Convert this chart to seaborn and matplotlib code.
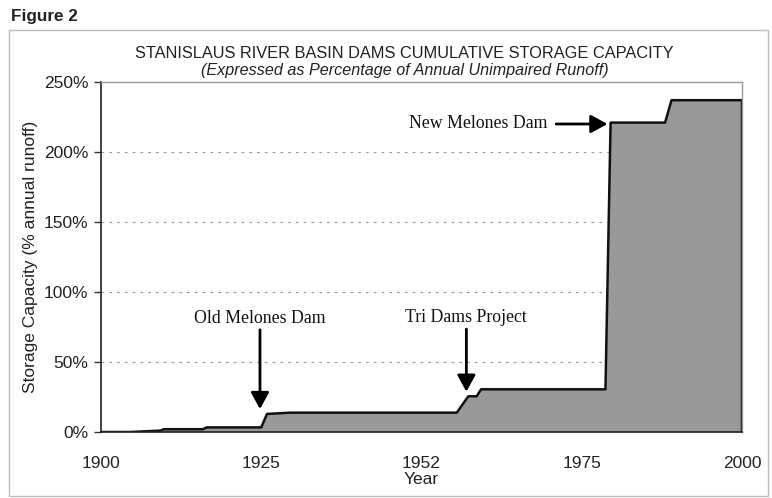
import matplotlib
matplotlib.use("Agg")
import matplotlib.pyplot as plt
from matplotlib.patches import Rectangle
import numpy as np
import seaborn as sns

# ---- data ----
years = [1900, 1904.5, 1909.3, 1909.8, 1915.9, 1916.5, 1925.0, 1925.9, 1929.5,
         1955.5, 1957.3, 1958.6, 1959.3, 1978.7, 1979.5, 1988.0, 1989.0, 2000, 2000]
capacity = [0, 0, 1.0, 2.0, 2.0, 3.3, 3.3, 12.9, 13.8,
            13.8, 25.5, 25.5, 30.5, 30.5, 221, 221, 237, 237, 0]
xtick_values = [1900, 1925, 1950, 1975, 2000]
xtick_labels = ["1900", "1925", "1952", "1975", "2000"]
ytick_values = [0, 50, 100, 150, 200, 250]
ytick_labels = ["0%", "50%", "100%", "150%", "200%", "250%"]

sns.set_style("white")
plt.rcParams['font.family'] = ['Liberation Sans', 'DejaVu Sans']

W, H = 772, 498
fig = plt.figure(figsize=(W / 100, H / 100), dpi=100)
ax = fig.add_axes([101 / W, 1 - 432 / H, (742 - 101) / W, (432 - 82) / H])

# grid
for yv in ytick_values[1:-1]:
    ax.axhline(yv, color='#9a9a9a', lw=0.8, ls=(0, (2.5, 4.5)), zorder=0)

ax.fill_between(years, capacity, 0, color='#999999', lw=0, zorder=1)
sns.lineplot(x=years, y=capacity, estimator=None, sort=False, color='#111111',
             lw=1.8, ax=ax, zorder=2)

ax.set_xlim(1900, 2000)
ax.set_ylim(0, 250)

ax.set_xticks(xtick_values)
ax.set_xticklabels(xtick_labels, fontsize=12.5, color='#222222')
ax.tick_params(axis='x', which='major', length=0, pad=17)
minor_x = [1900 + k * 4.64 for k in range(22)]
ax.set_xticks(minor_x, minor=True)
ax.tick_params(axis='x', which='minor', length=5, width=1, color='#333333', direction='out')

ax.set_yticks(ytick_values)
ax.set_yticklabels(ytick_labels, fontsize=12.5, color='#222222')
ax.tick_params(axis='y', which='major', length=5, width=1, color='#333333',
               direction='out', pad=4, left=True)

for side in ['left', 'bottom']:
    ax.spines[side].set_color('#222222')
    ax.spines[side].set_linewidth(1.2)
for side in ['top', 'right']:
    ax.spines[side].set_color('#999999')
    ax.spines[side].set_linewidth(1.0)
    ax.spines[side].set_visible(True)

ax.set_xlabel("Year", fontsize=12.5, color='#222222', labelpad=1)
ax.set_ylabel("Storage Capacity (% annual runoff)", fontsize=12.5, color='#222222', labelpad=4)

# titles
fig.text(404.5 / W, 1 - 53 / H, "STANISLAUS RIVER BASIN DAMS CUMULATIVE STORAGE CAPACITY",
         ha='center', va='center', fontsize=11.8, color='#222222')
fig.text(404.5 / W, 1 - 70 / H, "(Expressed as Percentage of Annual Unimpaired Runoff)",
         ha='center', va='center', fontsize=11.6, style='italic', color='#222222')
fig.text(11 / W, 1 - 16 / H, "Figure 2", ha='left', va='center', fontsize=12.3,
         fontweight='bold', color='#222222')

fig.patches.append(Rectangle((9 / W, 1 - 496 / H), 759 / W, 466 / H, transform=fig.transFigure,
                             fill=False, edgecolor='#bdbdbd', lw=1.0))

# annotations
serif = ['Liberation Serif', 'DejaVu Serif']
arrow = dict(arrowstyle='-|>,head_length=1.0,head_width=0.55', color='black', lw=2.0,
             shrinkA=0, shrinkB=0)
ax.annotate("", xy=(1924.8, 16.4), xytext=(1924.8, 73), arrowprops=arrow)
ax.text(1924.8, 81, "Old Melones Dam", ha='center', va='center', fontsize=12.8,
        family=serif, color='#111111')
ax.annotate("", xy=(1957.0, 28.8), xytext=(1957.0, 73.5), arrowprops=arrow)
ax.text(1957.0, 81.5, "Tri Dams Project", ha='center', va='center', fontsize=12.8,
        family=serif, color='#111111')
ax.annotate("", xy=(1979.0, 220), xytext=(1971.0, 220), arrowprops=arrow)
ax.text(1958.9, 220, "New Melones Dam", ha='center', va='center', fontsize=12.8,
        family=serif, color='#111111')

fig.savefig("out.png", dpi=100)
